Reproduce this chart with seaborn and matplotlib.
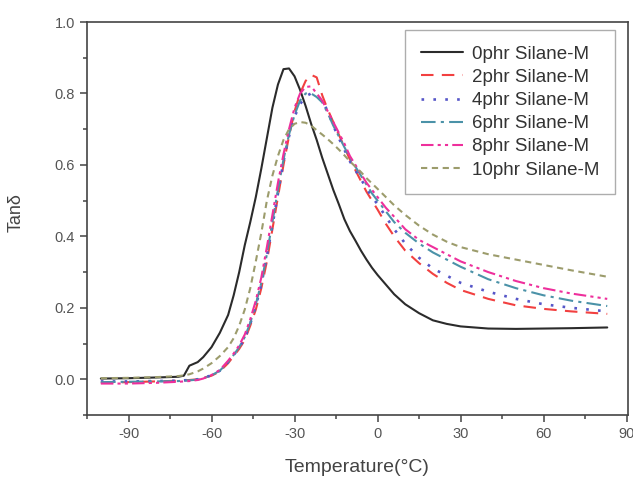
import matplotlib
matplotlib.use("Agg")
import matplotlib.pyplot as plt
import seaborn as sns
import numpy as np
import pandas as pd
from matplotlib.ticker import MultipleLocator

temperature = [-100, -90, -80, -72, -70, -68, -65, -63, -60, -57,
               -54, -52, -50, -48, -46, -44, -42, -40, -38, -36,
               -34, -32, -30, -28, -26, -24, -22, -20, -18, -16,
               -14, -12, -10, -8, -6, -4, -2, 0, 3, 6,
               10, 15, 20, 25, 30, 40, 50, 60, 70, 83]

tan_0phr = [.002, .003, .005, .007, .010, .038, .048, .062, .090, .130,
            .180, .235, .300, .375, .440, .510, .590, .675, .760, .825,
            .868, .870, .848, .810, .765, .715, .670, .620, .575, .530,
            .490, .448, .415, .388, .360, .335, .312, .292, .265, .238,
            .210, .185, .165, .155, .148, .142, .141, .142, .143, .145]
tan_2phr = [-.010, -.008, -.006, -.004, -.003, -.002, .000, .004, .010, .022,
            .045, .065, .085, .110, .150, .195, .255, .330, .420, .510,
            .600, .680, .750, .800, .835, .852, .845, .795, .755, .720,
            .685, .650, .615, .585, .555, .525, .500, .475, .435, .400,
            .360, .325, .295, .270, .250, .225, .207, .197, .190, .183]
tan_4phr = [-.006, -.006, -.005, -.004, -.003, -.002, .000, .004, .011, .024,
            .048, .068, .088, .115, .155, .205, .265, .345, .430, .520,
            .610, .680, .735, .770, .792, .800, .795, .780, .750, .710,
            .675, .643, .610, .585, .560, .535, .510, .490, .455, .420,
            .380, .340, .310, .290, .270, .245, .225, .210, .200, .190]
tan_6phr = [-.008, -.007, -.006, -.005, -.004, -.003, -.001, .003, .011, .024,
            .048, .068, .090, .118, .158, .210, .270, .350, .440, .530,
            .615, .685, .740, .780, .800, .800, .790, .775, .745, .710,
            .680, .650, .620, .595, .570, .545, .520, .500, .470, .440,
            .410, .380, .355, .335, .315, .280, .255, .235, .220, .205]
tan_8phr = [-.012, -.012, -.010, -.007, -.006, -.005, -.002, .002, .012, .026,
            .052, .072, .095, .125, .168, .220, .285, .370, .460, .550,
            .630, .700, .760, .800, .818, .820, .800, .780, .750, .720,
            .690, .660, .625, .600, .575, .550, .530, .510, .480, .455,
            .420, .390, .370, .350, .330, .300, .275, .255, .240, .225]
tan_10phr = [.003, .004, .006, .009, .011, .014, .022, .030, .045, .065,
             .090, .115, .150, .195, .255, .330, .410, .500, .570, .625,
             .670, .700, .715, .720, .718, .710, .697, .685, .672, .658,
             .643, .627, .610, .595, .580, .563, .548, .533, .510, .487,
             .460, .430, .405, .385, .370, .350, .335, .320, .305, .287]

labels = ["0phr Silane-M", "2phr Silane-M", "4phr Silane-M",
          "6phr Silane-M", "8phr Silane-M", "10phr Silane-M"]
series = [tan_0phr, tan_2phr, tan_4phr, tan_6phr, tan_8phr, tan_10phr]

xticks = [-90, -60, -30, 0, 30, 60, 90]
yticks = [0.0, 0.2, 0.4, 0.6, 0.8, 1.0]

colors = ["#2b2b2b", "#f24040", "#5656c8", "#4b92a8", "#ee2f9c", "#9c9c6c"]
styles = ["-", (0, (6, 4)), (0, (1, 3.5)), (0, (7, 2.5, 1.5, 2.5)),
          (0, (6, 2, 1.5, 2, 1.5, 2)), (0, (3, 2.2))]
widths = [1.5, 1.5, 1.9, 1.5, 1.5, 1.5]

sns.set_theme(style="white")
plt.rcParams["font.family"] = ["Liberation Sans", "DejaVu Sans"]

fig = plt.figure(figsize=(6.33, 4.79), dpi=100)
ax = fig.add_axes([87 / 633, 1 - 415 / 479, (628 - 87) / 633, (415 - 22) / 479])

for lab, vals, c, ls, lw in zip(labels, series, colors, styles, widths):
    df = pd.DataFrame({"T": temperature, "tan": vals})
    sns.lineplot(data=df, x="T", y="tan", ax=ax, color=c, linestyle=ls,
                 linewidth=lw, label=lab, sort=False)

ax.set_xlim(-105, 90.5)
ax.set_ylim(-0.1, 1.0)
ax.set_xticks(xticks)
ax.set_xticklabels([str(v) for v in xticks])
ax.set_yticks(yticks)
ax.set_yticklabels([f"{v:.1f}" for v in yticks])
ax.xaxis.set_minor_locator(MultipleLocator(15))
ax.yaxis.set_minor_locator(MultipleLocator(0.1))

for sp in ax.spines.values():
    sp.set_color("#444444")
    sp.set_linewidth(1.2)
ax.tick_params(axis="both", which="major", direction="out", length=5, width=1.1,
               color="#444444", labelsize=10.5, labelcolor="#555555",
               bottom=True, left=True, top=False, right=False)
ax.tick_params(axis="both", which="minor", direction="out", length=3, width=1.1,
               color="#444444", bottom=True, left=True, top=False, right=False)

ax.set_xlabel("Temperature(°C)", fontsize=14, color="#444444", labelpad=13)
ax.set_ylabel("Tanδ", fontsize=13, color="#444444")
ax.yaxis.set_label_coords(-0.115, 0.515)
ax.grid(False)

leg = ax.legend(loc="upper right", bbox_to_anchor=(0.976, 0.98), borderaxespad=0,
                fontsize=13.5, frameon=True, fancybox=False, handlelength=2.25,
                labelspacing=0.32, handletextpad=0.45, borderpad=0.85)
leg.get_frame().set_edgecolor("#999999")
leg.get_frame().set_linewidth(1.0)
for t in leg.get_texts():
    t.set_color("#333333")

fig.savefig("out.png", dpi=100, facecolor="white")
